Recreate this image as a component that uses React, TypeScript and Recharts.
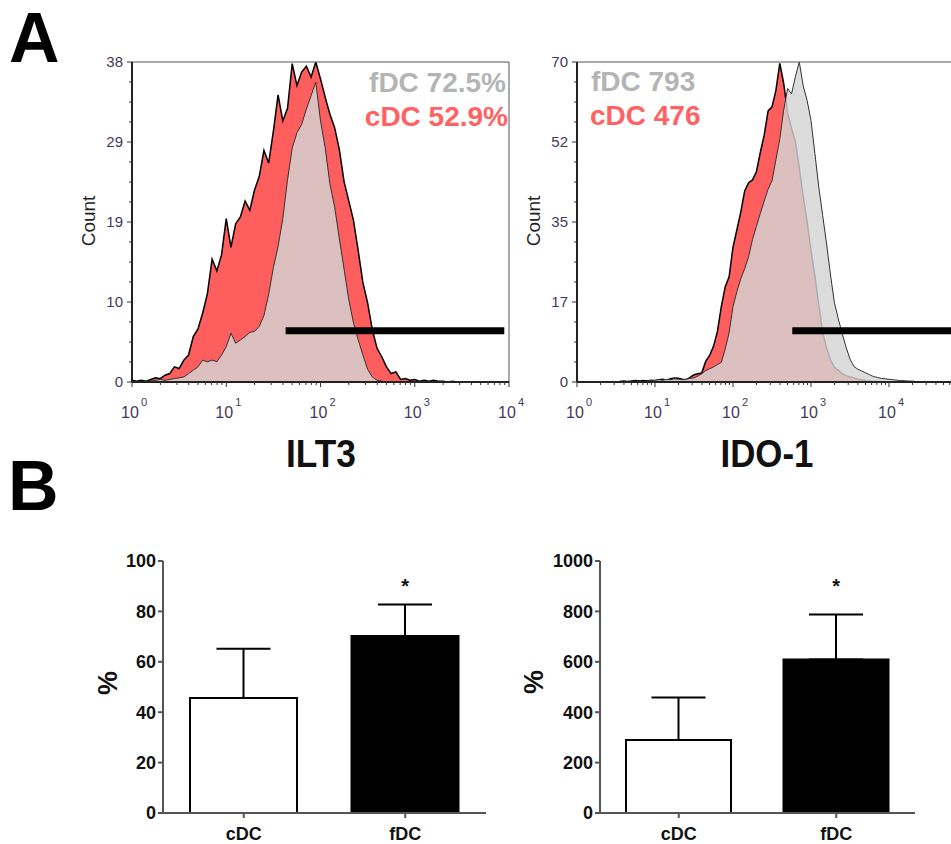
import React from 'react';
import {
  ComposedChart,
  Area,
  XAxis,
  YAxis,
  ReferenceLine,
  ReferenceArea,
  BarChart,
  Bar,
  ErrorBar,
  Cell,
  ReferenceDot,
} from 'recharts';

const FONT = '"Liberation Sans", Arial, Helvetica, sans-serif';
const TICK_COLOR = '#46385a';

// ---- A: ILT3 histogram (x in log10 units) ----
const ilt3Bins = [
  0, 0.05, 0.1, 0.15, 0.2, 0.25, 0.3, 0.35, 0.4, 0.45, 0.5, 0.55, 0.6, 0.65, 0.7, 0.75, 0.8, 0.85, 0.9, 0.95,
  1, 1.05, 1.1, 1.15, 1.2, 1.25, 1.3, 1.35, 1.4, 1.45, 1.5, 1.55, 1.6, 1.65, 1.7, 1.75, 1.8, 1.85, 1.9, 1.95,
  2, 2.05, 2.1, 2.15, 2.2, 2.25, 2.3, 2.35, 2.4, 2.45, 2.5, 2.55, 2.6, 2.65, 2.7, 2.75, 2.8, 2.85, 2.9, 2.95,
  3, 3.05, 3.1, 3.15, 3.2, 3.25, 3.3, 3.35, 3.4, 3.45, 3.5,
];
const ilt3Cdc = [
  0.2, 0.1, 0.2, 0.1, 0.3, 0.5, 0.4, 0.8, 1.0, 1.8, 1.6, 2.6, 3.2, 5.4, 6.3, 8.2, 10.5, 14.6, 13.2, 15.1,
  19.4, 16.0, 18.8, 19.6, 21.5, 20.4, 22.8, 24.4, 27.5, 26.0, 29.8, 34.1, 31.0, 32.5, 37.8, 35.2, 36.8, 37.5, 36.2, 38.0,
  36.0, 33.8, 31.8, 30.2, 27.6, 23.8, 21.5, 19.2, 15.6, 11.8, 9.4, 6.2, 4.0, 3.0, 1.8, 1.0, 1.2, 0.3, 0.4, 0.2,
  0.3, 0.1, 0.2, 0.1, 0.2, 0.1, 0.1, 0, 0.1, 0, 0,
];
const ilt3Fdc = [
  0, 0, 0, 0.1, 0.1, 0.2, 0.3, 0.2, 0.3, 0.4, 0.5, 0.6, 1.0, 1.4, 1.8, 2.6, 2.4, 2.6, 2.4, 3.2,
  4.2, 5.8, 4.6, 5.0, 5.4, 5.9, 6.0, 6.6, 7.9, 10.4, 13.6, 16.1, 19.4, 24.0, 27.8, 29.6, 30.6, 32.4, 34.0, 35.6,
  31.0, 27.8, 23.5, 20.8, 17.0, 13.4, 9.8, 7.0, 5.0, 3.2, 1.5, 0.6, 0.2, 0.1, 0, 0, 0, 0, 0, 0,
  0, 0, 0, 0, 0, 0, 0, 0, 0, 0, 0,
];
const ilt3YTicks = [0, 9.5, 19, 28.5, 38];
const ilt3YLabels = ['0', '10', '19', '29', '38'];
const ilt3Gate = { from: 1.63, to: 3.95, level: 6.1 };

// ---- A: IDO-1 histogram ----
const idoBins = [
  0.5, 0.55, 0.6, 0.65, 0.7, 0.75, 0.8, 0.85, 0.9, 0.95, 1, 1.05, 1.1, 1.15, 1.2, 1.25, 1.3, 1.35, 1.4, 1.45,
  1.5, 1.55, 1.6, 1.65, 1.7, 1.75, 1.8, 1.85, 1.9, 1.95, 2, 2.05, 2.1, 2.15, 2.2, 2.25, 2.3, 2.35, 2.4, 2.45,
  2.5, 2.55, 2.6, 2.65, 2.7, 2.75, 2.8, 2.85, 2.9, 2.95, 3, 3.05, 3.1, 3.15, 3.2, 3.25, 3.3, 3.35, 3.4, 3.45,
  3.5, 3.55, 3.6, 3.65, 3.7, 3.75, 3.8, 3.85, 3.9, 3.95, 4, 4.05, 4.1, 4.15, 4.2, 4.25, 4.3, 4.35, 4.4, 4.45, 4.5,
];
const idoCdc = [
  0, 0.1, 0.2, 0.1, 0.2, 0.3, 0.2, 0.3, 0.2, 0.4, 0.3, 0.5, 0.6, 0.4, 0.7, 0.9, 0.8, 0.6, 0.5, 1.0,
  1.6, 1.8, 2.0, 4.5, 5.8, 7.8, 11.0, 16.5, 20.8, 23.0, 29.5, 33.3, 37.2, 41.8, 43.6, 44.2, 46.0, 50.2, 54.0, 59.3,
  60.2, 63.8, 69.7, 65.3, 58.8, 55.6, 52.5, 46.8, 40.6, 35.0, 28.8, 23.2, 16.8, 10.8, 7.4, 4.8, 3.2, 2.6, 1.8, 1.4,
  1.1, 0.9, 0.6, 0.5, 0.3, 0.2, 0.1, 0.1, 0, 0, 0, 0, 0, 0, 0, 0, 0, 0, 0, 0, 0,
];
const idoFdc = [
  0, 0, 0.1, 0, 0.1, 0.1, 0.2, 0.1, 0.2, 0.3, 0.4, 0.5, 0.4, 0.6, 0.5, 0.7, 0.6, 0.5, 0.6, 0.8,
  0.9, 1.3, 1.8, 2.5, 2.9, 3.3, 3.8, 4.3, 7.2, 10.8, 16.5, 19.8, 22.6, 24.8, 27.4, 31.2, 34.0, 36.9, 39.6, 42.2,
  44.0, 48.6, 53.2, 59.5, 64.2, 63.0, 66.8, 70.0, 64.8, 61.6, 57.2, 50.0, 42.6, 36.4, 30.2, 23.4, 17.4, 13.8, 10.6, 7.6,
  5.0, 3.4, 2.8, 2.4, 2.0, 1.6, 1.2, 1.0, 0.8, 0.7, 0.6, 0.5, 0.4, 0.3, 0.3, 0.2, 0.2, 0.1, 0.1, 0, 0,
];
const idoYTicks = [0, 17.5, 35, 52.5, 70];
const idoYLabels = ['0', '17', '35', '52', '70'];
const idoGate = { from: 2.76, to: 5, level: 11.2 };

const decadeLabels = ['0', '1', '2', '3', '4'];

// ---- B: bar charts ----
const groups = ['cDC', 'fDC'];
const barFills = ['#ffffff', '#000000'];
const ilt3Means = [45.6, 70.2];
const ilt3Errs = [19.6, 12.5];
const ilt3BarTicks = [0, 20, 40, 60, 80, 100];
const idoMeans = [290, 609];
const idoErrs = [168, 179];
const idoBarTicks = [0, 200, 400, 600, 800, 1000];

function HistYTick(props: any) {
  const { x, y, index, labels } = props;
  const major = index % 4 === 0;
  return (
    <g>
      <line x1={x} x2={x - (major ? 5 : 3)} y1={y} y2={y} stroke="#333" strokeWidth={1} />
      {major && (
        <text x={x - 9} y={y} dy="0.35em" textAnchor="end" fontSize={15} fill={TICK_COLOR} fontFamily={FONT}>
          {labels[index / 4]}
        </text>
      )}
    </g>
  );
}

function HistXTick(props: any) {
  const { x, y, payload } = props;
  const v = payload.value;
  const n = Math.round(v);
  const major = Math.abs(v - n) < 1e-6;
  return (
    <g>
      <line x1={x} x2={x} y1={y} y2={y + (major ? 5 : 3)} stroke="#333" strokeWidth={1} />
      {major && decadeLabels[n] !== undefined && (
        <g fontFamily={FONT} fill={TICK_COLOR}>
          <text x={x - 2} y={y + 36} textAnchor="middle" fontSize={16}>10</text>
          <text x={x + 9} y={y + 24} textAnchor="start" fontSize={11}>{decadeLabels[n]}</text>
        </g>
      )}
    </g>
  );
}

function Histogram(props: any) {
  const { left, width, marginLeft, marginRight, yAxisWidth, bins, cdc, fdc, yTicks, yLabels, xMax, gate } = props;
  const yMax = yTicks[yTicks.length - 1];
  const data = bins.map((b: number, i: number) => ({ bin: b, cdc: cdc[i], fdc: fdc[i] }));

  const yAll: number[] = [];
  for (let i = 0; i < yTicks.length - 1; i++) {
    const step = (yTicks[i + 1] - yTicks[i]) / 4;
    for (let q = 0; q < 4; q++) yAll.push(yTicks[i] + q * step);
  }
  yAll.push(yMax);

  const xAll: number[] = [];
  for (let n = 0; n < xMax; n++) {
    xAll.push(n);
    for (let k = 2; k <= 9; k++) xAll.push(n + Math.log10(k));
  }
  xAll.push(xMax);

  return (
    <div style={{ position: 'absolute', left, top: 0 }}>
      <ComposedChart
        width={width}
        height={430}
        data={data}
        margin={{ top: 62, right: marginRight, left: marginLeft, bottom: 8 }}
      >
        <XAxis
          dataKey="bin"
          type="number"
          domain={[0, xMax]}
          ticks={xAll}
          interval={0}
          height={40}
          allowDataOverflow
          tickSize={0}
          tickMargin={0}
          tickLine={false}
          axisLine={{ stroke: '#222', strokeWidth: 2 }}
          tick={(p: any) => <HistXTick {...p} />}
        />
        <YAxis
          type="number"
          domain={[0, yMax]}
          ticks={yAll}
          interval={0}
          width={yAxisWidth}
          allowDataOverflow
          tickSize={0}
          tickMargin={0}
          tickLine={false}
          axisLine={{ stroke: '#222', strokeWidth: 2 }}
          tick={(p: any) => <HistYTick {...p} labels={yLabels} />}
        />
        <Area
          type="linear"
          dataKey="cdc"
          stroke="#000"
          strokeWidth={1.5}
          fill="#ff5e5e"
          fillOpacity={1}
          dot={false}
          activeDot={false}
          isAnimationActive={false}
        />
        <Area
          type="linear"
          dataKey="fdc"
          stroke="#333"
          strokeWidth={1}
          fill="#d4d4d4"
          fillOpacity={0.82}
          dot={false}
          activeDot={false}
          isAnimationActive={false}
        />
        <ReferenceLine
          segment={[
            { x: gate.from, y: gate.level },
            { x: gate.to, y: gate.level },
          ]}
          stroke="#000"
          strokeWidth={7}
        />
        <ReferenceArea x1={0} x2={xMax} y1={0} y2={yMax} fill="none" stroke="#555" strokeWidth={1} />
      </ComposedChart>
    </div>
  );
}

function CatTick(props: any) {
  const { x, y, payload } = props;
  return (
    <g>
      <line x1={x} x2={x} y1={y} y2={y + 5} stroke="#555" strokeWidth={2} />
      <text x={x} y={y + 27} textAnchor="middle" fontSize={18} fontWeight="bold" fill="#111" fontFamily={FONT}>
        {payload.value}
      </text>
    </g>
  );
}

function BarPanel(props: any) {
  const { left, marginLeft, marginRight, means, errs, ticks, barSize } = props;
  const yMax = ticks[ticks.length - 1];
  const data = groups.map((g, i) => ({ group: g, mean: means[i], err: [0, errs[i]] }));
  return (
    <div style={{ position: 'absolute', left, top: 540 }}>
      <BarChart
        width={440}
        height={304}
        data={data}
        margin={{ top: 21, right: marginRight, left: marginLeft, bottom: 6 }}
      >
        <XAxis
          dataKey="group"
          height={25}
          interval={0}
          tickSize={0}
          tickMargin={0}
          tickLine={false}
          axisLine={{ stroke: '#555', strokeWidth: 2 }}
          tick={(p: any) => <CatTick {...p} />}
        />
        <YAxis
          type="number"
          domain={[0, yMax]}
          ticks={ticks}
          interval={0}
          width={60}
          allowDataOverflow
          tickSize={5}
          tickMargin={2}
          axisLine={{ stroke: '#555', strokeWidth: 2 }}
          tickLine={{ stroke: '#555', strokeWidth: 2 }}
          tick={{ fontSize: 18, fontWeight: 'bold', fill: '#111', fontFamily: FONT }}
        />
        <Bar dataKey="mean" barSize={barSize} stroke="#000" strokeWidth={2} isAnimationActive={false}>
          {data.map((d, i) => (
            <Cell key={d.group} fill={barFills[i]} />
          ))}
          <ErrorBar dataKey="err" direction="y" width={27} stroke="#000" strokeWidth={2} />
        </Bar>
        <ReferenceDot
          x="fDC"
          y={yMax * 0.9}
          r={0}
          fill="none"
          stroke="none"
          label={{ value: '*', position: 'center', fontSize: 20, fontWeight: 'bold', fill: '#111', fontFamily: FONT }}
        />
      </BarChart>
    </div>
  );
}

export default function App() {
  return (
    <div
      style={{
        position: 'absolute',
        left: 0,
        top: 0,
        width: 951,
        height: 844,
        overflow: 'hidden',
        background: '#fff',
        fontFamily: FONT,
      }}
    >
      <Histogram
        left={0}
        width={530}
        marginLeft={72}
        marginRight={21}
        yAxisWidth={60}
        bins={ilt3Bins}
        cdc={ilt3Cdc}
        fdc={ilt3Fdc}
        yTicks={ilt3YTicks}
        yLabels={ilt3YLabels}
        xMax={4}
        gate={ilt3Gate}
      />
      <Histogram
        left={520}
        width={460}
        marginLeft={7}
        marginRight={13}
        yAxisWidth={50}
        bins={idoBins}
        cdc={idoCdc}
        fdc={idoFdc}
        yTicks={idoYTicks}
        yLabels={idoYLabels}
        xMax={5}
        gate={idoGate}
      />
      <BarPanel left={60} marginLeft={43} marginRight={14} means={ilt3Means} errs={ilt3Errs} ticks={ilt3BarTicks} barSize={107} />
      <BarPanel left={500} marginLeft={40} marginRight={25} means={idoMeans} errs={idoErrs} ticks={idoBarTicks} barSize={105} />

      <svg
        width={951}
        height={844}
        style={{ position: 'absolute', left: 0, top: 0, pointerEvents: 'none' }}
        fontFamily={FONT}
      >
        <text x={9} y={62} fontSize={70} fontWeight="bold" fill="#000">A</text>
        <text x={8} y={510} fontSize={70} fontWeight="bold" fill="#000">B</text>

        <text x={506} y={92} textAnchor="end" fontSize={28} fontWeight="bold" fill="#b4b4b4">fDC 72.5%</text>
        <text x={508} y={126} textAnchor="end" fontSize={28} fontWeight="bold" fill="#ff6262">cDC 52.9%</text>
        <text x={591} y={91} fontSize={28} fontWeight="bold" fill="#b4b4b4">fDC 793</text>
        <text x={590} y={125} fontSize={28} fontWeight="bold" fill="#ff6262">cDC 476</text>

        <text transform="translate(95,221) rotate(-90)" textAnchor="middle" fontSize={19} fill="#222">Count</text>
        <text transform="translate(540,221) rotate(-90)" textAnchor="middle" fontSize={19} fill="#222">Count</text>

        <text x={321} y={467} textAnchor="middle" fontSize={38} fontWeight="bold" fill="#111" textLength={70} lengthAdjust="spacingAndGlyphs">ILT3</text>
        <text x={767} y={467} textAnchor="middle" fontSize={38} fontWeight="bold" fill="#111" textLength={93} lengthAdjust="spacingAndGlyphs">IDO-1</text>

        <text transform="translate(117,683) rotate(-90)" textAnchor="middle" fontSize={27} fontWeight="bold" fill="#111">%</text>
        <text transform="translate(543,682) rotate(-90)" textAnchor="middle" fontSize={27} fontWeight="bold" fill="#111">%</text>
      </svg>
    </div>
  );
}
